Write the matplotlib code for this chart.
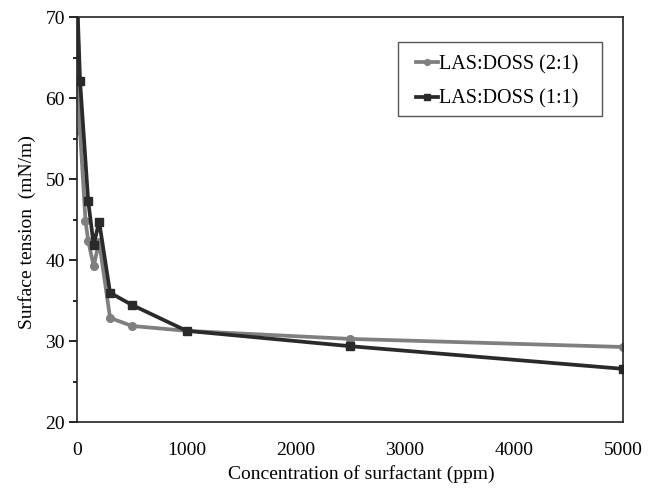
import matplotlib
matplotlib.use("Agg")
import matplotlib.pyplot as plt
from matplotlib.ticker import MultipleLocator
from matplotlib.patches import Rectangle

plt.rcParams['font.family'] = ['Liberation Serif', 'DejaVu Serif']

x_21 = [0, 25, 75, 100, 150, 200, 300, 500, 1000, 2500, 5000]
y_21 = [72, 56.0, 44.9, 42.4, 39.3, 42.3, 32.9, 31.9, 31.3, 30.3, 29.3]
x_11 = [0, 25, 100, 150, 200, 300, 500, 1000, 2500, 5000]
y_11 = [72, 62.2, 47.3, 41.9, 44.8, 36.0, 34.5, 31.3, 29.4, 26.6]
labels = ['LAS:DOSS (2:1)', 'LAS:DOSS (1:1)']

W, H = 663, 490
L, R, T, B = 77.3, 623.3, 17.5, 422.3
fig = plt.figure(figsize=(W / 100, H / 100), dpi=100)
ax = fig.add_axes([L / W, 1 - B / H, (R - L) / W, (B - T) / H])

ax.plot(x_21, y_21, color='#7f7f7f', lw=2.7, marker='o', ms=5.5, label=labels[0])
ax.plot(x_11, y_11, color='#2a2a2a', lw=2.7, marker='s', ms=5.5, label=labels[1])

ax.set_xlim(0, 5000)
ax.set_ylim(20, 70)
ax.xaxis.set_major_locator(MultipleLocator(1000))
ax.yaxis.set_major_locator(MultipleLocator(10))
ax.yaxis.set_minor_locator(MultipleLocator(5))
ax.tick_params(axis='x', length=0, pad=14, labelsize=14)
ax.tick_params(axis='y', which='major', length=6, width=1.2, direction='out', labelsize=14, pad=3)
ax.tick_params(axis='y', which='minor', length=3, width=1.2, direction='out')
for s in ax.spines.values():
    s.set_linewidth(1.2)
    s.set_color('#222222')

ax.set_xlabel('Concentration of surfactant (ppm)', fontsize=14, labelpad=0)
ax.xaxis.set_label_coords(0.52, -0.105)
ax.set_ylabel('Surface tension  (mN/m)', fontsize=14, labelpad=0)
ax.yaxis.set_label_coords(-0.075, 0.47)

def px2ax(px, py):
    return ((px - L) / (R - L), (B - py) / (B - T))

# legend frame
x0, y0 = px2ax(398, 116)
x1, y1 = px2ax(602, 42)
ax.add_patch(Rectangle((x0, y0), x1 - x0, y1 - y0, transform=ax.transAxes,
                       fill=False, edgecolor='#555555', lw=1.0, zorder=5))

lx, ly = px2ax(416, 55)
leg = ax.legend(loc='upper left', bbox_to_anchor=(lx, ly), fontsize=14.5,
                frameon=False, handlelength=1.1, handletextpad=0.05,
                borderpad=0, borderaxespad=0, labelspacing=0.75, markerscale=0.75)

fig.savefig('out.png', dpi=100)
